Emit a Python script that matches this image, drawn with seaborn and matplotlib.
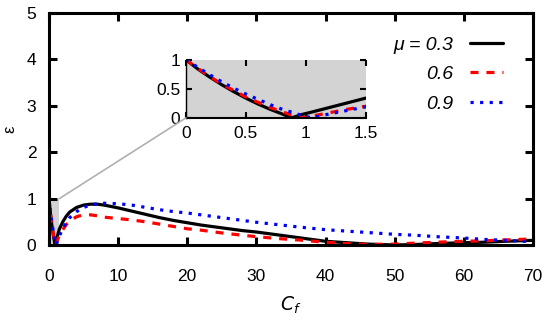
import matplotlib
matplotlib.use("Agg")
import matplotlib.pyplot as plt
import seaborn as sns
from matplotlib.patches import Rectangle, ConnectionPatch

# donnees
cf = [0, 0.1, 0.2, 0.3, 0.4, 0.5, 0.6, 0.7, 0.8, 0.88, 0.97, 1.05, 1.2, 1.35, 1.5,
      2, 2.5, 3, 4, 5, 6, 7, 8, 10, 12, 14, 16, 18, 20, 22, 25, 28, 30, 33, 36,
      40, 43, 46, 50, 53, 56, 60, 63, 66, 70]
eps_03 = [1.00, 0.84, 0.70, 0.57, 0.45, 0.34, 0.24, 0.15, 0.07, 0.00, 0.06, 0.10, 0.18, 0.26, 0.34,
          0.50, 0.62, 0.71, 0.81, 0.86, 0.88, 0.88, 0.86, 0.80, 0.73, 0.66, 0.59, 0.53, 0.48, 0.43, 0.37, 0.31, 0.28, 0.22, 0.16,
          0.08, 0.05, 0.02, 0.00, 0.01, 0.03, 0.05, 0.06, 0.08, 0.10]
eps_06 = [1.00, 0.85, 0.71, 0.58, 0.47, 0.36, 0.27, 0.18, 0.11, 0.05, 0.00, 0.03, 0.09, 0.15, 0.20,
          0.33, 0.44, 0.52, 0.61, 0.65, 0.65, 0.63, 0.60, 0.57, 0.54, 0.50, 0.45, 0.40, 0.35, 0.32, 0.26, 0.21, 0.18, 0.14, 0.11,
          0.06, 0.03, 0.01, 0.02, 0.04, 0.06, 0.08, 0.09, 0.11, 0.13]
eps_09 = [1.00, 0.87, 0.74, 0.62, 0.51, 0.41, 0.32, 0.23, 0.15, 0.10, 0.04, 0.00, 0.07, 0.13, 0.19,
          0.36, 0.48, 0.59, 0.72, 0.81, 0.86, 0.89, 0.90, 0.89, 0.86, 0.81, 0.76, 0.72, 0.69, 0.65, 0.59, 0.53, 0.49, 0.44, 0.39,
          0.33, 0.30, 0.27, 0.23, 0.21, 0.18, 0.15, 0.12, 0.10, 0.07]
labels = ["\u03bc = 0.3", "0.6", "0.9"]
colors = ["black", "red", "blue"]
styles = ["-", (0, (2.5, 2.5)), (0, (1, 2))]

sns.set_style("ticks")
plt.rcParams['font.family'] = ['Liberation Sans', 'DejaVu Sans']
plt.rcParams['font.size'] = 12
plt.rcParams['text.color'] = 'black'
plt.rcParams['axes.labelcolor'] = 'black'
plt.rcParams['axes.edgecolor'] = 'black'
plt.rcParams['xtick.color'] = 'black'
plt.rcParams['ytick.color'] = 'black'

fig = plt.figure(figsize=(5.5, 3.23), dpi=100)
ax = fig.add_axes([0.089, 0.2415, 0.88, 0.718])
axin = fig.add_axes([0.338, 0.635, 0.327, 0.18])

# zone grise du zoom
ax.add_patch(Rectangle((0, 0), 1.5, 1, facecolor="#d3d3d3", edgecolor="none", zorder=0))

for y, lab, c, ls in zip([eps_03, eps_06, eps_09], labels, colors, styles):
    sns.lineplot(x=cf, y=y, ax=ax, color=c, linestyle=ls, linewidth=2.3, label=lab)
    sns.lineplot(x=cf, y=y, ax=axin, color=c, linestyle=ls, linewidth=2.3)

ax.set_xlim(0, 70)
ax.set_ylim(0, 5)
ax.set_xticks(range(0, 71, 10))
ax.set_yticks(range(0, 6))
ax.set_xlabel("$C_f$", fontsize=13.5, labelpad=8)
ax.set_ylabel("\u03b5", fontsize=12, labelpad=7)
ax.tick_params(direction="in", length=6, width=2.2, top=True, right=True, labelsize=12.5)
ax.tick_params(axis="x", pad=17)
ax.tick_params(axis="y", pad=9)
for s in ax.spines.values():
    s.set_linewidth(2.2)

leg = ax.legend(loc="upper right", markerfirst=False, frameon=False, handlelength=1.7,
                labelspacing=0.6, handletextpad=0.9, bbox_to_anchor=(0.975, 0.975),
                prop={"style": "italic", "size": 14})

axin.set_facecolor("#d3d3d3")
axin.set_xlim(0, 1.5)
axin.set_ylim(0, 1)
axin.set_xticks([0, 0.5, 1, 1.5])
axin.set_xticklabels(["0", "0.5", "1", "1.5"])
axin.set_yticks([0, 0.5, 1])
axin.set_yticklabels(["0", "0.5", "1"])
axin.tick_params(direction="in", length=4, width=1.5, top=True, right=True, labelsize=12.5)
axin.tick_params(axis="x", pad=6)
axin.tick_params(axis="y", pad=4)
axin.spines["top"].set_visible(False)
axin.spines["right"].set_visible(False)
axin.spines["left"].set_linewidth(1)
axin.spines["bottom"].set_linewidth(1.5)
if axin.get_legend():
    axin.get_legend().remove()

con = ConnectionPatch(xyA=(1.5, 1), coordsA=ax.transData, xyB=(0, 0), coordsB=axin.transData,
                      color="#b0b0b0", linewidth=1.2)
fig.add_artist(con)

fig.savefig("out.png", dpi=100)
